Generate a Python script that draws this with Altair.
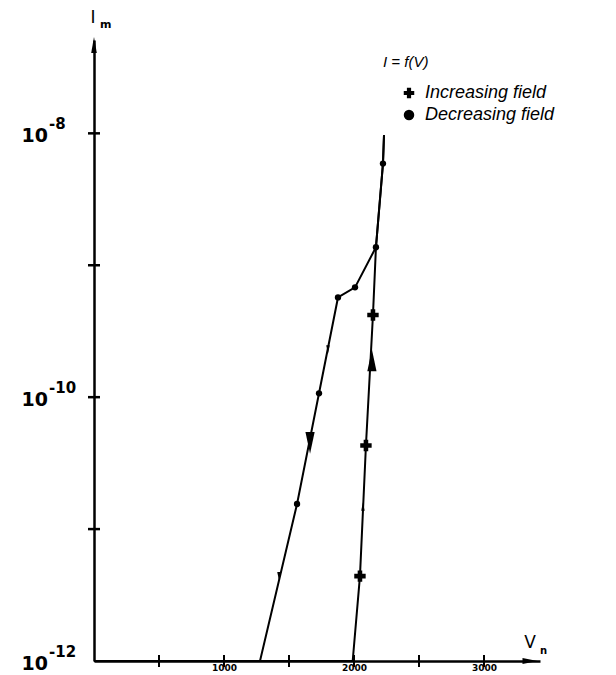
import altair as alt
import pandas as pd

# ---- data ----
series_names = ["Increasing field", "Decreasing field"]

inc_V = [0, 1990, 2046, 2092, 2146, 2169, 2223, 2231]
inc_I = [1e-12, 1e-12, 4.4e-12, 4.3e-11, 4.2e-10, 1.37e-9, 5.9e-9, 9.7e-9]

dec_V = [2231, 2223, 2169, 2008, 1877, 1731, 1562, 1277, 0]
dec_I = [9.7e-9, 5.9e-9, 1.37e-9, 6.8e-10, 5.7e-10, 1.07e-10, 1.55e-11, 1e-12, 1e-12]

inc_mark_V = [2046, 2092, 2146]
inc_mark_I = [4.4e-12, 4.3e-11, 4.2e-10]
dec_mark_V = [2223, 2169, 2008, 1877, 1731, 1562]
dec_mark_I = [5.9e-9, 1.37e-9, 6.8e-10, 5.7e-10, 1.07e-10, 1.55e-11]

arrow_V = [2138, 2069, 1662, 1423, 1800]
arrow_I = [1.9e-10, 1.48e-11, 4.5e-11, 4.4e-12, 2.3e-10]
arrow_dir = ["up", "up", "down", "down", "down"]
arrow_big = [True, False, True, False, False]

y_tick_I = [1e-11, 1e-10, 1e-9, 1e-8]
y_label_I = [1e-8, 1e-10, 1e-12]
y_label_exp = ["-8", "-10", "-12"]
x_tick_V = [500, 1000, 1500, 2000, 2500, 3000]
x_label_V = [1000, 2000, 3000]

# ---- tables ----
lines_df = pd.concat([
    pd.DataFrame({"V": inc_V, "I": inc_I, "series": series_names[0], "ord": range(len(inc_V))}),
    pd.DataFrame({"V": dec_V, "I": dec_I, "series": series_names[1], "ord": range(len(dec_V))}),
])
marks_df = pd.concat([
    pd.DataFrame({"V": inc_mark_V, "I": inc_mark_I, "series": series_names[0]}),
    pd.DataFrame({"V": dec_mark_V, "I": dec_mark_I, "series": series_names[1]}),
])
marks_df["msz"] = [130 if s == series_names[0] else 40 for s in marks_df["series"]]
arrows_df = pd.DataFrame({"V": arrow_V, "I": arrow_I, "dir": arrow_dir, "big": arrow_big})
arrows_df["ang"] = [0 if d == "up" else 180 for d in arrow_dir]
arrows_df["sz"] = [480 if b else 70 for b in arrow_big]
ytick_df = pd.DataFrame({"I": y_tick_I})
ylab_df = pd.DataFrame({"I": y_label_I, "exp": y_label_exp})
xtick_df = pd.DataFrame({"V": x_tick_V})
one = pd.DataFrame({"k": [0]})

W, H = 446, 621
xs = alt.Scale(domain=[0, 3431], nice=False, zero=False)
ys = alt.Scale(type="log", domain=[1e-12, 5.1e-8], nice=False)

xaxis = alt.Axis(values=x_label_V, format="d", title=None, ticks=False, grid=False,
                 domainColor="black", domainWidth=2.5, labelFontSize=9, labelFont="DejaVu Sans",
                 labelFontWeight="bold", labelColor="black", labelPadding=2)
yaxis = alt.Axis(title=None, labels=False, ticks=False, grid=False, domainColor="black",
                 domainWidth=2.5)
X = alt.X("V:Q", scale=xs, axis=xaxis)
Y = alt.Y("I:Q", scale=ys, axis=yaxis)

UP = "M0,-1L0.42,1L-0.42,1Z"
AX_UP = "M0,-1L0.35,1L-0.35,1Z"
AX_RIGHT = "M1,0L-1,-0.4L-1,0.4Z"

lines = alt.Chart(lines_df).mark_line(color="black", strokeWidth=2).encode(
    x=X, y=Y, detail="series:N", order="ord:Q")

markers = alt.Chart(marks_df).mark_point(filled=True, opacity=1, color="black").encode(
    x=X, y=Y,
    shape=alt.Shape("series:N", scale=alt.Scale(domain=series_names, range=["cross", "circle"]),
                    legend=alt.Legend(title=None, orient="none", legendX=306, legendY=44,
                                      labelFont="Liberation Sans", labelFontStyle="italic",
                                      labelFontSize=18, labelColor="black", symbolSize=110,
                                      symbolFillColor="black", symbolStrokeColor="black",
                                      symbolStrokeWidth=0, labelOffset=7, rowPadding=4,
                                      padding=0)),
    size=alt.Size("msz:Q", scale=None),
)

arrows = alt.Chart(arrows_df).mark_point(shape=UP, filled=True, opacity=1, color="black").encode(
    x=X, y=Y,
    angle=alt.Angle("ang:Q", scale=None),
    size=alt.Size("sz:Q", scale=None),
)

yticks = alt.Chart(ytick_df).mark_rule(color="black", strokeWidth=2.5).encode(
    y=Y, x=alt.value(-6), x2=alt.value(6))
xticks = alt.Chart(xtick_df).mark_rule(color="black", strokeWidth=2).encode(
    x=X, y=alt.value(H - 6), y2=alt.value(H + 6))

ylab_base = alt.Chart(ylab_df).mark_text(
    align="right", baseline="middle", font="DejaVu Sans", fontWeight="bold", fontSize=19,
    dy=3, color="black").encode(y=Y, x=alt.value(-46), text=alt.value("10"))
ylab_exp = alt.Chart(ylab_df).mark_text(
    align="left", baseline="middle", font="DejaVu Sans", fontWeight="bold", fontSize=15,
    dy=-9, color="black").encode(y=Y, x=alt.value(-45), text="exp:N")


def ann(text, x, y, size, weight="normal", style="normal", font="DejaVu Sans", align="left"):
    return alt.Chart(one).mark_text(
        align=align, baseline="middle", font=font, fontSize=size, fontWeight=weight,
        fontStyle=style, color="black").encode(
        x=alt.value(x), y=alt.value(y), text=alt.value(text))


yarrow = alt.Chart(one).mark_point(shape=AX_UP, filled=True, opacity=1, color="black",
                                   size=256).encode(x=alt.value(0), y=alt.value(5))
xarrow = alt.Chart(one).mark_point(shape=AX_RIGHT, filled=True, opacity=1, color="black",
                                   size=225).encode(x=alt.value(436), y=alt.value(H))

chart = alt.layer(
    lines, markers, arrows, yticks, xticks, ylab_base, ylab_exp, yarrow, xarrow,
    ann("I", -1, -22, 17, align="center"),
    ann("m", 6, -15, 11, weight="bold"),
    ann("V", 436, 603, 17, align="center"),
    ann("n", 446, 611, 10, weight="bold"),
    ann("I = f(V)", 289, 22, 15, style="italic", font="Liberation Sans"),
).properties(
    width=W, height=H,
    autosize=alt.AutoSizeParams(type="none"),
    padding={"left": 86, "top": 32, "right": 68, "bottom": 14},
).configure_view(stroke=None)

chart.save("out.html", embed_options={"renderer": "svg", "actions": False})
